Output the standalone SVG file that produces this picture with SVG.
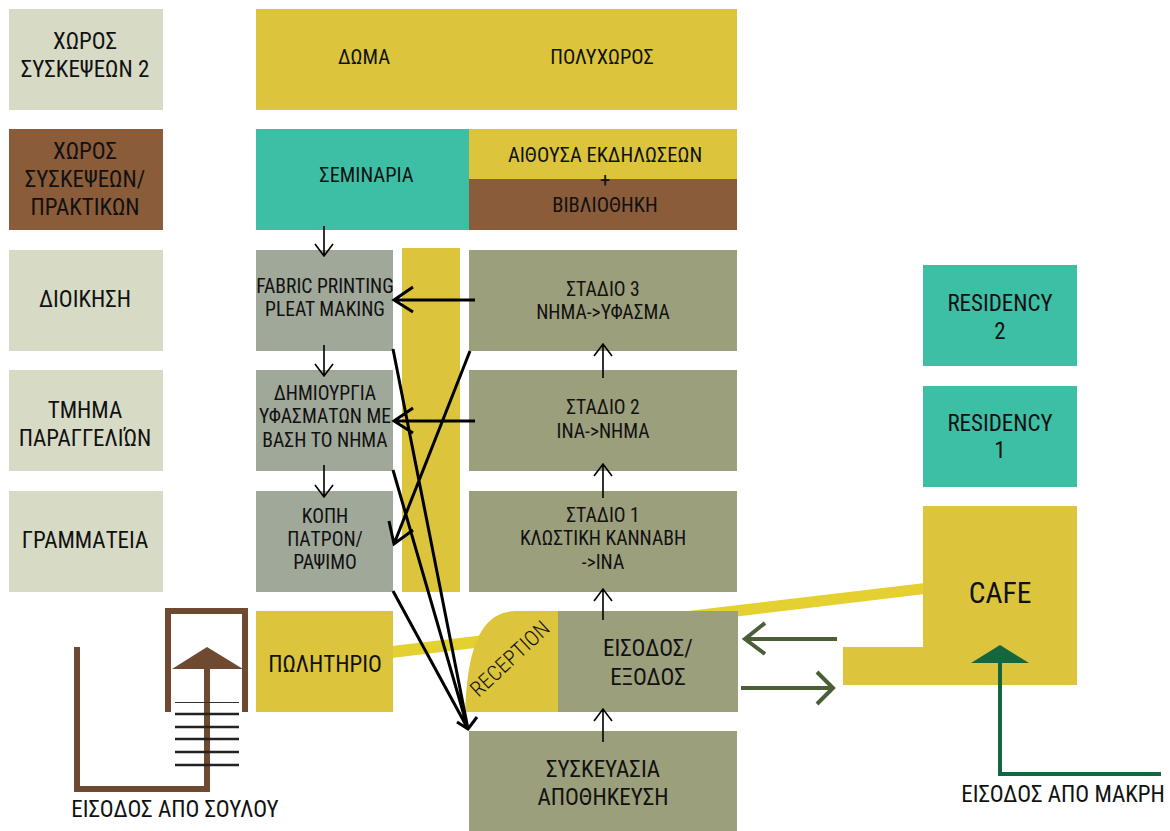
<svg xmlns="http://www.w3.org/2000/svg" width="1170" height="831" viewBox="0 0 1170 831">
<style>
text{font-family:Roboto,"Liberation Sans",sans-serif;font-size:20.5px;fill:#111;text-anchor:middle;font-stretch:condensed}
.big{font-size:23px}.m{font-size:19.6px}
.y{fill:#dcc53d}.l{fill:#d7dbc6}.b{fill:#8a5c3a}.t{fill:#3dbfa6}.o{fill:#9c9f7b}.g{fill:#a0a89a}
.k{fill:none;stroke:#000;stroke-width:1.6}.k3{fill:none;stroke:#000;stroke-width:3}
.gr{fill:none;stroke:#4a5e38;stroke-width:4}.br{fill:none;stroke:#6f4a30;stroke-width:6}.st{stroke:#222;stroke-width:2.4}
</style>
<g id="band"><path d="M392 646L925 583V594L392 658Z" fill="#e4d030"/></g>
<g id="n-syskepseon2"><rect class="l" x="9" y="9" width="154" height="101"/><text class="big" x="85" y="49">ΧΩΡΟΣ</text><text class="big" x="85" y="77">ΣΥΣΚΕΨΕΩΝ 2</text></g>
<g id="n-doma"><rect class="y" x="256" y="9" width="481" height="101"/><text x="364" y="64">ΔΩΜΑ</text><text x="602" y="64">ΠΟΛΥΧΩΡΟΣ</text></g>
<g id="n-praktikon"><rect class="b" x="9" y="129" width="154" height="101"/><text class="big" x="85" y="159">ΧΩΡΟΣ</text><text class="big" x="85" y="187">ΣΥΣΚΕΨΕΩΝ/</text><text class="big" x="85" y="215">ΠΡΑΚΤΙΚΩΝ</text></g>
<g id="n-seminaria"><rect class="t" x="256" y="129" width="213" height="101"/><text x="366.500" y="182">ΣΕΜΙΝΑΡΙΑ</text></g>
<g id="n-aithousa"><rect class="y" x="469" y="129" width="268" height="50"/><rect class="b" x="469" y="179" width="268" height="51"/><text x="605" y="162">ΑΙΘΟΥΣΑ ΕΚΔΗΛΩΣΕΩΝ</text><text x="605" y="187">+</text><text x="605" y="212">ΒΙΒΛΙΟΘΗΚΗ</text></g>
<g id="n-dioikisi"><rect class="l" x="9" y="250" width="154" height="101"/><text class="big" x="85" y="307">ΔΙΟΙΚΗΣΗ</text></g>
<g id="n-tmima"><rect class="l" x="9" y="370" width="154" height="101"/><text class="big" x="85" y="418">ΤΜΗΜΑ</text><text class="big" x="85" y="446">ΠΑΡΑΓΓΕΛΙΏΝ</text></g>
<g id="n-grammateia"><rect class="l" x="9" y="491" width="154" height="101"/><text class="big" x="85" y="548">ΓΡΑΜΜΑΤΕΙΑ</text></g>
<g id="n-fabric"><rect class="g" x="256" y="250" width="137" height="101"/><text class="m" x="325" y="293">FABRIC PRINTING</text><text class="m" x="325" y="316">PLEAT MAKING</text></g>
<g id="n-dimiourgia"><rect class="g" x="256" y="370" width="137" height="101"/><text class="m" x="325" y="400">ΔΗΜΙΟΥΡΓΙΑ</text><text class="m" x="325" y="423">ΥΦΑΣΜΑΤΩΝ ΜΕ</text><text class="m" x="325" y="447">ΒΑΣΗ ΤΟ ΝΗΜΑ</text></g>
<g id="n-kopi"><rect class="g" x="256" y="491" width="137" height="101"/><text class="m" x="325" y="523">ΚΟΠΗ</text><text class="m" x="325" y="546">ΠΑΤΡΟΝ/</text><text class="m" x="325" y="569">ΡΑΨΙΜΟ</text></g>
<g id="n-column"><rect class="y" x="402" y="248" width="58" height="344"/></g>
<g id="n-stadio3"><rect class="o" x="469" y="250" width="268" height="101"/><text class="m" x="603" y="296">ΣΤΑΔΙΟ 3</text><text class="m" x="603" y="319">ΝΗΜΑ-&gt;ΥΦΑΣΜΑ</text></g>
<g id="n-stadio2"><rect class="o" x="469" y="370" width="268" height="101"/><text class="m" x="603" y="414">ΣΤΑΔΙΟ 2</text><text class="m" x="603" y="438">ΙΝΑ-&gt;ΝΗΜΑ</text></g>
<g id="n-stadio1"><rect class="o" x="469" y="491" width="268" height="101"/><text class="m" x="603" y="522">ΣΤΑΔΙΟ 1</text><text class="m" x="603" y="545">ΚΛΩΣΤΙΚΗ ΚΑΝΝΑΒΗ</text><text class="m" x="603" y="569">-&gt;ΙΝΑ</text></g>
<g id="n-politirio"><rect class="y" x="256" y="611" width="137" height="101"/><text class="big" x="325" y="672">ΠΩΛΗΤΗΡΙΟ</text></g>
<g id="n-reception"><path class="y" d="M465 712C467 670 472 611 516 611H559V712Z"/><text transform="translate(510 659) rotate(-43)" x="0" y="7" style="font-size:21.500px;font-weight:300">RECEPTION</text></g>
<g id="n-eisodos"><rect class="o" x="558" y="611" width="180" height="101"/><text class="big" x="648" y="656">ΕΙΣΟΔΟΣ/</text><text class="big" x="648" y="685">ΕΞΟΔΟΣ</text></g>
<g id="n-syskeuasia"><rect class="o" x="469" y="731" width="268" height="100"/><text class="big" x="603" y="777">ΣΥΣΚΕΥΑΣΙΑ</text><text class="big" x="603" y="805">ΑΠΟΘΗΚΕΥΣΗ</text></g>
<g id="n-res2"><rect class="t" x="923" y="265" width="154" height="101"/><text class="big" x="1000" y="311">RESIDENCY</text><text class="big" x="1000" y="339">2</text></g>
<g id="n-res1"><rect class="t" x="923" y="386" width="154" height="101"/><text class="big" x="1000" y="431">RESIDENCY</text><text class="big" x="1000" y="458">1</text></g>
<g id="n-cafe"><path class="y" d="M923 506H1077V685H843V647H923Z"/><text x="1000" y="603" style="font-size:29.5px">CAFE</text></g>
<g id="connectors">
<path class="k" d="M324 226V256M315 244L324 256L333 244M324 345V376M315 364L324 376L333 364M324 465V497M315 485L324 497L333 485M603 378V344M594 356L603 344L612 356M603 498V464M594 476L603 464L612 476M603 620V589M594 601L603 589L612 601M603 742V709M594 721L603 709L612 721"/>
<path class="k3" d="M475 300H394M413 287L394 300L413 312M475 421H394M413 408L394 421L413 433M470 351L394 544M389 521L394 544L413 530M393 349L468 729M393 470L468 729M393 591L468 729M457 722L468 729L477 717"/>
<path class="gr" d="M837 639H745M765 623L745 639L765 654M741 688H833M817 672L833 688L817 704"/>
<path class="br" d="M168 712V611H245V712"/>
<path d="M172 669L207 647L243 669Z" fill="#6f4a30"/>
<path class="br" d="M207 668V789H77V647"/>
<path class="st" d="M175 714H239M175 727H239M175 739H239M175 752H239M175 765H239"/>
<path d="M175 702.500H239" stroke="#333" stroke-width="1"/>
<path d="M971 663L1000 645L1029 663Z" fill="#14663f"/>
<path d="M1000 662V774H1161" fill="none" stroke="#14663f" stroke-width="4"/>
</g>
<g id="labels"><text class="big" x="175" y="817">ΕΙΣΟΔΟΣ ΑΠΟ ΣΟΥΛΟΥ</text><text class="big" x="1063" y="802">ΕΙΣΟΔΟΣ ΑΠΟ ΜΑΚΡΗ</text></g>
</svg>
